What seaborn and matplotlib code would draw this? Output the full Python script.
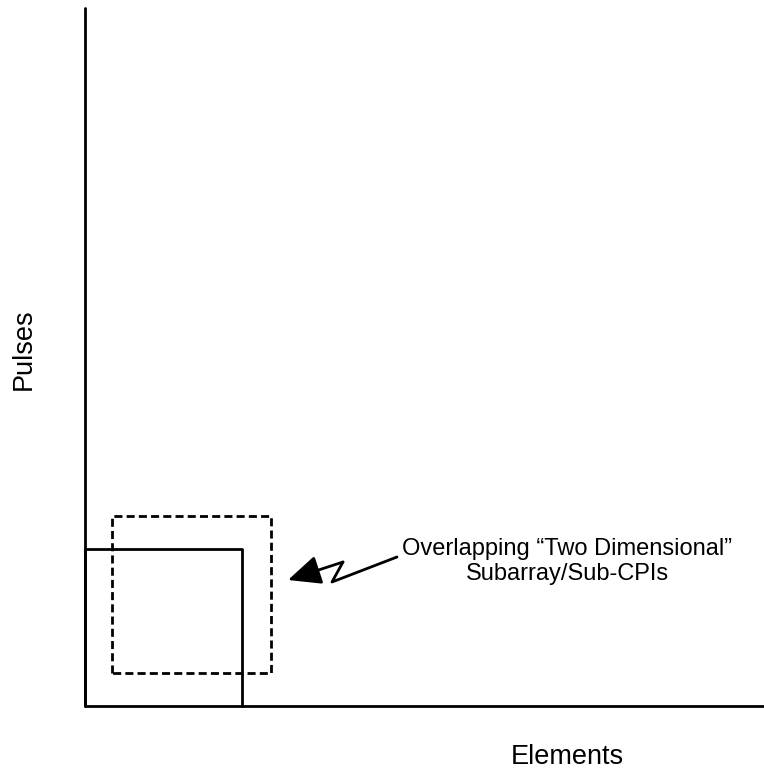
import numpy as np
import pandas as pd
import seaborn as sns
import matplotlib.pyplot as plt

# diagram coordinates in pixel-like units, origin at the axes corner
axis_x = [0, 0, 679]
axis_y = [698, 0, 0]

# sub-CPI boxes (elements x pulses)
solid_x = [0, 0, 157, 157]
solid_y = [0, 157, 157, 0]
dashed_x = [27, 27, 186, 186, 27]
dashed_y = [33, 190, 190, 33, 33]

# zigzag arrow from the label to the dashed box
zig_x = [312, 247, 258]
zig_y = [149, 124, 144]
tip = (203, 126)

label_lines = ["Overlapping \u201cTwo Dimensional\u201d", "Subarray/Sub-CPIs"]
label_pos = [(482, 151), (482, 126)]
xlabel = "Elements"
ylabel = "Pulses"

sns.set_theme(style="white")
plt.rcParams['font.family'] = ['Liberation Sans', 'DejaVu Sans']

fig = plt.figure(figsize=(7.64, 7.71), dpi=100)
ax = fig.add_axes([0, 0, 1, 1])
ax.set_xlim(-85, 679)
ax.set_ylim(-65, 706)
ax.axis("off")

sns.lineplot(x=axis_x, y=axis_y, sort=False, estimator=None, color="black", lw=2.0, ax=ax)
sns.lineplot(x=solid_x, y=solid_y, sort=False, estimator=None, color="black", lw=2.0, ax=ax)
sns.lineplot(x=dashed_x, y=dashed_y, sort=False, estimator=None, color="black", lw=2.0,
             linestyle=(0, (2.9, 1.5)), ax=ax)
sns.lineplot(x=zig_x, y=zig_y, sort=False, estimator=None, color="black", lw=2.0, ax=ax)
ax.annotate("", xy=tip, xytext=(zig_x[-1], zig_y[-1]),
            arrowprops=dict(arrowstyle="-|>,head_length=1.0,head_width=0.45", mutation_scale=20,
                            lw=2.0, color="black", shrinkA=0, shrinkB=0))

for txt, (px, py) in zip(label_lines, label_pos):
    ax.text(px, py, txt, ha="center", va="baseline", fontsize=17, color="black")

ax.text(482, -58, xlabel, ha="center", va="baseline", fontsize=19.5, color="black")
ax.text(-61, 357, ylabel, ha="center", va="center", rotation=90, fontsize=19.5, color="black")

fig.savefig("out.png", dpi=100)
